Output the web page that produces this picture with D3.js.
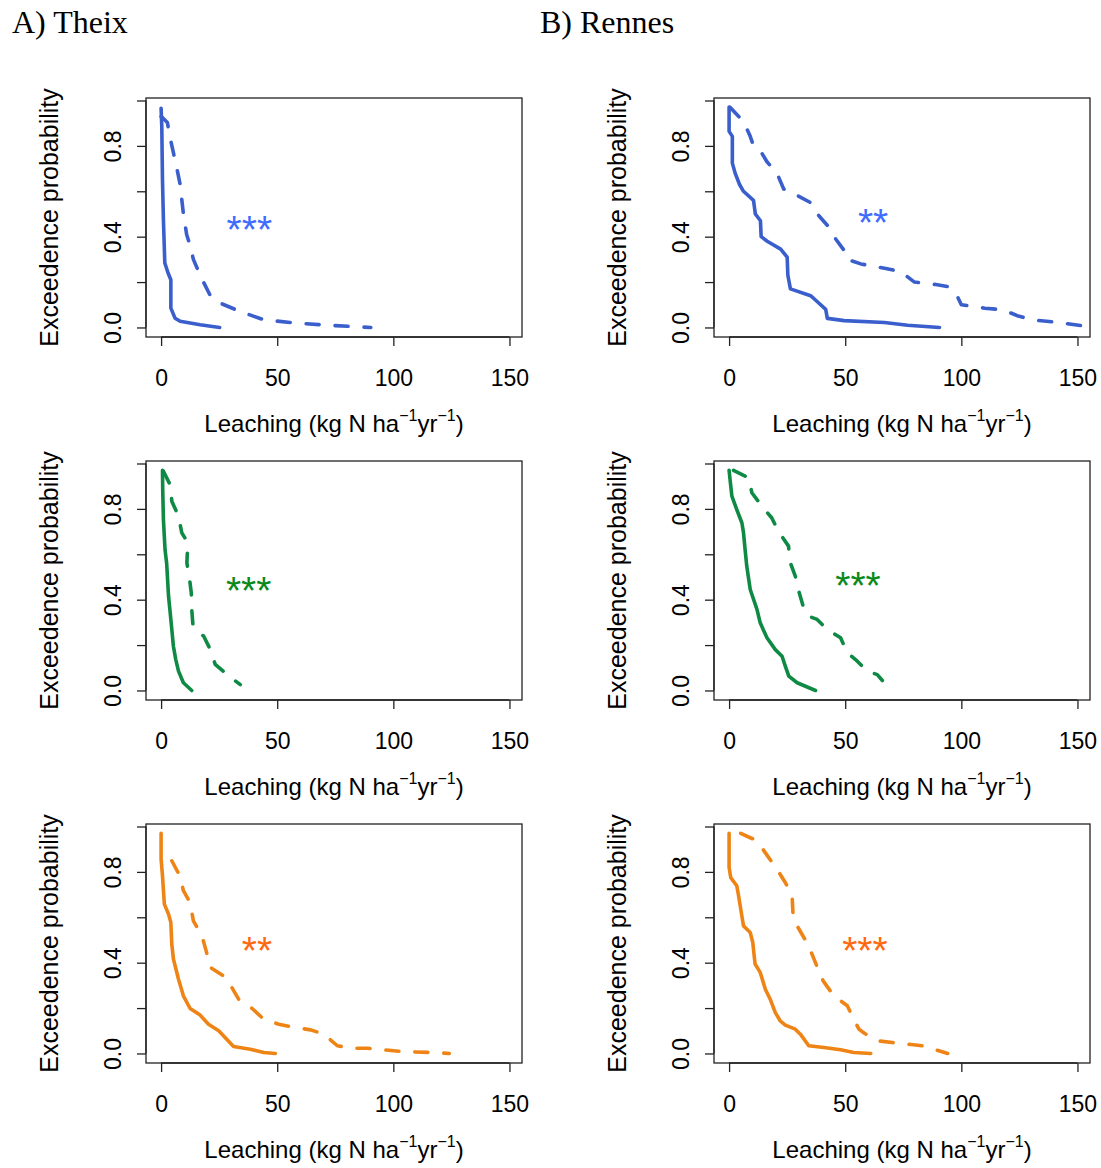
<!DOCTYPE html>
<html><head><meta charset="utf-8">
<script src="https://cdn.jsdelivr.net/npm/d3@7"></script>
<style>body{margin:0;background:#fff}</style>
</head><body>
<script>
// ---------- data ----------
const siteTitles = ["A) Theix", "B) Rennes"];
const xTicks = [0, 50, 100, 150];
const yTicks = [0, 0.2, 0.4, 0.6, 0.8, 1.0];
const yTickLabels = ["0.0", "", "0.4", "", "0.8", ""];
const xDomain = [-6.5, 155.4];
const yDomain = [-0.042, 1.011];

// Theix, row 1 (blue)
const theixBlueSolid = [[0,0.966],[0.3,0.885],[0.6,0.65],[1.0,0.474],[1.6,0.284],[3.0,0.24],[4.2,0.21],[4.2,0.085],[6.0,0.041],[8.2,0.027],[16.8,0.012],[25.2,0]];
const theixBlueDashed = [[0,0.93],[2.7,0.903],[3.9,0.835],[5.3,0.77],[6.8,0.70],[8.2,0.63],[9.6,0.50],[11.0,0.41],[12.5,0.36],[13.9,0.30],[16.8,0.23],[21.2,0.14],[24.8,0.11],[34.1,0.07],[44.2,0.034],[58.6,0.019],[73,0.009],[90.3,0]];
// Rennes, row 1 (blue)
const rennesBlueSolid = [[0,0.971],[0,0.864],[1.4,0.842],[1.4,0.724],[2.6,0.68],[4.5,0.63],[6.2,0.60],[10.5,0.56],[11.3,0.50],[13.5,0.47],[13.8,0.40],[16.4,0.38],[22.2,0.345],[25.0,0.31],[25.3,0.23],[26.4,0.17],[35.1,0.14],[37.3,0.12],[41.6,0.08],[42.3,0.04],[49.5,0.03],[66.8,0.022],[76.9,0.01],[90.6,0]];
const rennesBlueDashed = [[0.4,0.97],[6.2,0.907],[9.1,0.842],[10.5,0.80],[13.4,0.78],[16.3,0.73],[20.6,0.68],[23.5,0.61],[27.8,0.59],[35.1,0.55],[38.0,0.50],[42.3,0.45],[45.9,0.39],[49.5,0.34],[50.9,0.30],[56.7,0.28],[67.5,0.26],[74,0.245],[79.8,0.20],[88.4,0.19],[94.2,0.18],[98.6,0.13],[100,0.10],[110.1,0.085],[118,0.078],[124.5,0.05],[131.7,0.032],[138.9,0.025],[145.4,0.017],[157,0]];
// Theix, row 2 (green)
const theixGreenSolid = [[0.6,0.97],[0.7,0.885],[1.0,0.753],[1.7,0.62],[2.4,0.56],[3.2,0.416],[4.2,0.313],[5.3,0.195],[6.3,0.137],[7.5,0.085],[9.6,0.034],[13.2,0]];
const theixGreenDashed = [[1.0,0.966],[4.2,0.90],[4.6,0.834],[7.5,0.768],[8.9,0.695],[11.1,0.658],[11.4,0.628],[11.1,0.562],[12.2,0.496],[13.0,0.43],[13.2,0.357],[13.7,0.29],[15.4,0.26],[18.3,0.24],[21.2,0.18],[23.3,0.115],[28.4,0.07],[34.1,0.026]];
// Rennes, row 2 (green)
const rennesGreenSolid = [[0,0.97],[0.4,0.93],[1.2,0.856],[3.3,0.797],[5.5,0.739],[6.2,0.695],[6.9,0.62],[7.6,0.548],[9.1,0.445],[12.0,0.357],[13.4,0.298],[16.3,0.232],[19.9,0.18],[22.8,0.151],[24.2,0.107],[25.7,0.063],[29.3,0.034],[37.2,0]];
const rennesGreenDashed = [[1.9,0.97],[8.4,0.937],[9.8,0.871],[14.1,0.812],[18.4,0.76],[21.3,0.70],[25.6,0.636],[26.1,0.57],[28.5,0.504],[30.0,0.438],[32.1,0.364],[34.3,0.327],[37.9,0.313],[42.2,0.269],[48.0,0.232],[50.9,0.166],[55.2,0.129],[59.5,0.085],[63.8,0.07],[66.0,0.044]];
// Theix, row 3 (orange)
const theixOrangeSolid = [[0,0.97],[0,0.856],[0.6,0.783],[1.4,0.658],[3.2,0.614],[4.2,0.577],[4.6,0.482],[5.3,0.416],[7.5,0.327],[9.6,0.254],[12.5,0.198],[16.8,0.169],[20.4,0.129],[24.8,0.10],[31.2,0.031],[38.4,0.019],[44.2,0.004],[49.2,0]];
const theixOrangeDashed = [[4.6,0.849],[8.2,0.78],[9.6,0.717],[12.5,0.665],[13.9,0.584],[17.6,0.518],[19.4,0.452],[21.2,0.379],[26.9,0.342],[30.5,0.29],[33.4,0.239],[39.2,0.198],[44.2,0.151],[50.7,0.129],[57.2,0.115],[64.4,0.104],[70.1,0.085],[75.9,0.034],[82.4,0.023],[88.8,0.023],[96.0,0.016],[103.2,0.009],[116.9,0.004],[124.1,0]];
// Rennes, row 3 (orange)
const rennesOrangeSolid = [[0,0.97],[0,0.82],[0.7,0.775],[3.3,0.739],[4.0,0.70],[4.8,0.65],[5.5,0.606],[6.2,0.562],[9.1,0.533],[10.2,0.489],[10.8,0.43],[11.2,0.394],[13.4,0.357],[15.6,0.283],[17.7,0.239],[19.9,0.18],[22.0,0.144],[24.2,0.125],[28.5,0.107],[30.7,0.085],[34.3,0.034],[40.8,0.026],[48.0,0.016],[53.7,0.004],[61.0,0]];
const rennesOrangeDashed = [[5.0,0.97],[12.0,0.937],[16.3,0.874],[20.6,0.812],[24.2,0.753],[27.1,0.70],[27.5,0.62],[29.3,0.562],[32.6,0.504],[35.7,0.438],[38.6,0.364],[40.5,0.32],[45.1,0.254],[50.9,0.21],[53.7,0.151],[55.9,0.107],[58.1,0.09],[63.8,0.056],[70.3,0.048],[76.8,0.041],[83.3,0.034],[94.1,0]];

const significance = [["***", "**"], ["***", "***"], ["**", "***"]];
const significanceAt = [[[38, 0.47], [62, 0.50]], [[37.7, 0.48], [55.5, 0.50]], [[41.3, 0.49], [58.5, 0.49]]];

const panelSeries = [
  [[theixBlueSolid, theixBlueDashed], [rennesBlueSolid, rennesBlueDashed]],
  [[theixGreenSolid, theixGreenDashed], [rennesGreenSolid, rennesGreenDashed]],
  [[theixOrangeSolid, theixOrangeDashed], [rennesOrangeSolid, rennesOrangeDashed]]
];

// ---------- styles / layout ----------
const lineColors = ["#3a5fcd", "#0f8a45", "#ef8416"];
const starColors = ["#3f6cff", "#0a8a1a", "#ff6a10"];
const W = 1101, H = 1168;
const colLeft = [146, 714], colWidth = 376;
const rowTop = [98, 461, 824], rowHeight = 239;

const svg = d3.select("body").append("svg").attr("width", W).attr("height", H)
  .style("font-family", "'Liberation Sans', Arial, sans-serif");

svg.selectAll("text.site").data(siteTitles).enter().append("text")
  .attr("x", (d, i) => [12, 540][i]).attr("y", 33)
  .style("font-family", "'Liberation Serif', 'Times New Roman', serif")
  .style("font-size", "32px").attr("fill", "#000").text(d => d);

panelSeries.forEach((row, r) => {
  row.forEach((series, c) => {
    const x0 = colLeft[c], y0 = rowTop[r];
    const x = d3.scaleLinear().domain(xDomain).range([x0, x0 + colWidth]);
    const y = d3.scaleLinear().domain(yDomain).range([y0 + rowHeight, y0]);
    const g = svg.append("g");
    const clipId = `clip-${r}-${c}`;
    g.append("clipPath").attr("id", clipId).append("rect")
      .attr("x", x0).attr("y", y0).attr("width", colWidth).attr("height", rowHeight);

    // x axis
    const xa = g.append("g").attr("transform", `translate(0,${y0 + rowHeight})`)
      .call(d3.axisBottom(x).tickValues(xTicks).tickSize(9).tickPadding(24).tickFormat(d3.format("d")));
    xa.select(".domain").attr("d", `M${x(0)},0H${x(150)}`).attr("stroke", "#222").attr("stroke-width", 1.3);
    xa.selectAll(".tick line").attr("stroke", "#222").attr("stroke-width", 1.3);
    xa.selectAll(".tick text").style("font-size", "23px").attr("fill", "#000")
      .style("font-family", "'Liberation Sans', Arial, sans-serif");

    // y axis
    const ya = g.append("g").attr("transform", `translate(${x0},0)`)
      .call(d3.axisLeft(y).tickValues(yTicks).tickSize(9).tickFormat((d, i) => yTickLabels[i]));
    ya.select(".domain").attr("d", `M0,${y(0)}V${y(1)}`).attr("stroke", "#222").attr("stroke-width", 1.3);
    ya.selectAll(".tick line").attr("stroke", "#222").attr("stroke-width", 1.3);
    ya.selectAll(".tick text")
      .attr("x", null).attr("dy", null)
      .attr("transform", "translate(-25,0) rotate(-90)")
      .attr("text-anchor", "middle")
      .style("font-size", "23px").attr("fill", "#000")
      .style("font-family", "'Liberation Sans', Arial, sans-serif");

    // frame
    g.append("rect").attr("x", x0).attr("y", y0).attr("width", colWidth).attr("height", rowHeight)
      .attr("fill", "none").attr("stroke", "#222").attr("stroke-width", 1.3);

    // lines
    const line = d3.line().x(d => x(d[0])).y(d => y(d[1]));
    const lg = g.append("g").attr("clip-path", `url(#${clipId})`);
    lg.append("path").datum(series[0]).attr("d", line)
      .attr("fill", "none").attr("stroke", lineColors[r]).attr("stroke-width", 3.6)
      .attr("stroke-linejoin", "round").attr("stroke-linecap", "round");
    lg.append("path").datum(series[1]).attr("d", line)
      .attr("fill", "none").attr("stroke", lineColors[r]).attr("stroke-width", 3.6)
      .attr("stroke-dasharray", "13,16")
      .attr("stroke-linejoin", "round").attr("stroke-linecap", "round");

    // significance stars
    const sp = significanceAt[r][c];
    g.append("text").attr("x", x(sp[0])).attr("y", y(sp[1]) + 22)
      .attr("text-anchor", "middle").style("font-size", "39px").attr("fill", starColors[r])
      .text(significance[r][c]);

    // axis titles
    g.append("text")
      .attr("transform", `translate(${x0 - 88},${y0 + rowHeight / 2}) rotate(-90)`)
      .attr("text-anchor", "middle").style("font-size", "25px").attr("fill", "#000")
      .text("Exceedence probability");

    const xl = g.append("text").attr("x", x0 + colWidth / 2).attr("y", y0 + rowHeight + 95)
      .attr("text-anchor", "middle").style("font-size", "24px").attr("fill", "#000");
    xl.append("tspan").text("Leaching (kg N ha");
    xl.append("tspan").attr("dy", -11).style("font-size", "16px").text("\u22121");
    xl.append("tspan").attr("dy", 11).text("yr");
    xl.append("tspan").attr("dy", -11).style("font-size", "16px").text("\u22121");
    xl.append("tspan").attr("dy", 11).text(")");
  });
});
</script>
</body></html>
